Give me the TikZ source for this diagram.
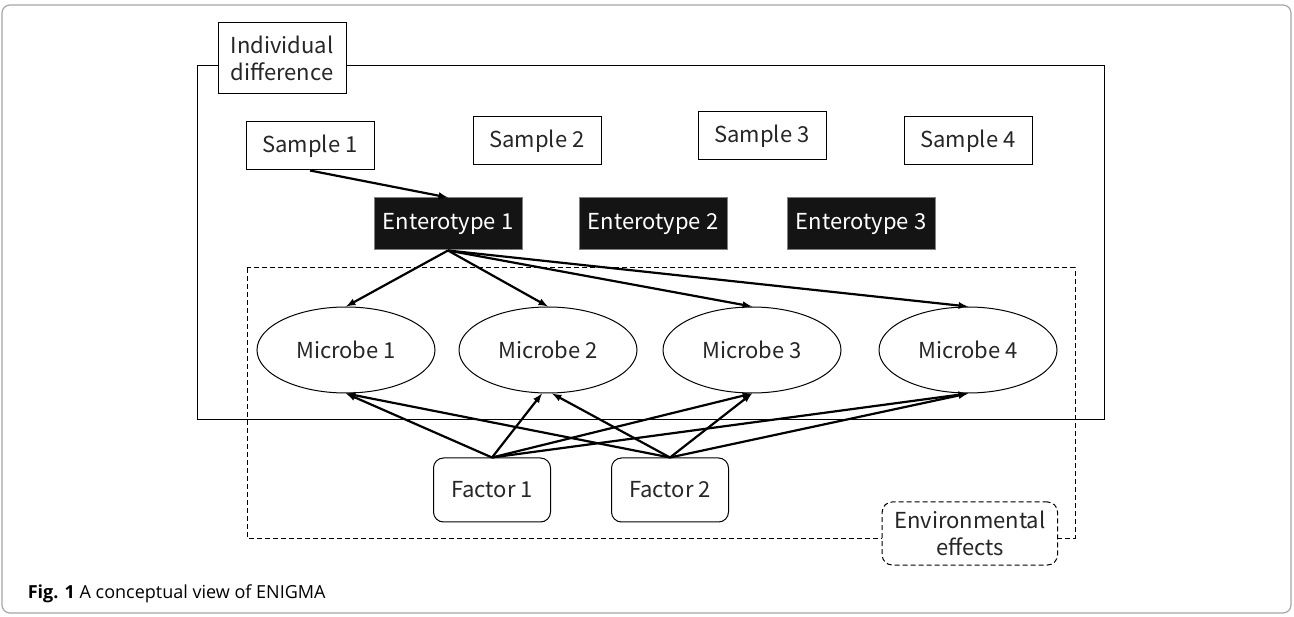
\documentclass[tikz,border=0pt]{standalone}
\usepackage{fontspec}
\setmainfont{Noto Sans CJK JP}
\newfontfamily\capfont{Open Sans}
\usepackage{tikz}
\usetikzlibrary{arrows, shapes.geometric}
\tikzset{every picture/.style={line width=1pt}}

\begin{document}
\begin{tikzpicture}[x=1pt,y=-1pt,align=center,
        font=\fontsize{22}{27}\selectfont,
        box/.style={draw,fill=white,text=black!85,minimum width=128pt,minimum height=48pt},
        etype/.style={draw=gray,fill=black!92,text=white,minimum width=148pt,minimum height=52pt},
        microbe/.style={draw,ellipse,text=black!85,minimum width=178pt,minimum height=86pt,inner sep=0pt},
        factor/.style={draw,rounded corners=10pt,text=black!85,minimum width=117pt,minimum height=64pt},
        dashbox/.style={dash pattern=on 5pt off 3pt},
        link/.style={line width=2.2pt,every edge/.append style={-latex}}]
        \useasboundingbox (0,0) rectangle (1294,617);
        \draw[gray!70,line width=1.2pt,rounded corners=8pt] (2,5) rectangle (1291,613);

        % individual difference / environmental effects
        \draw (197,66) rectangle (1104,420);
        \draw[dashbox] (247,268) rectangle (1075,538);
        \node[box,minimum height=71pt] (ind) at (282,58) {Individual\\difference};
        \node[draw,dashbox,fill=white,text=black!85,rounded corners=10pt,anchor=east,minimum height=63pt,inner xsep=12pt] (env) at (1058,533.5) {Environmental\\effects};

        \node[box] (s1) at (310,146) {Sample 1};
        \node[box] (s2) at (537,141) {Sample 2};
        \node[box] (s3) at (762,136) {Sample 3};
        \node[box] (s4) at (968,141) {Sample 4};

        \node[etype] (e1) at (448,224) {Enterotype 1};
        \node[etype] (e2) at (653,224) {Enterotype 2};
        \node[etype] (e3) at (861,224) {Enterotype 3};

        \node[microbe] (m1) at (346,350) {Microbe 1};
        \node[microbe] (m2) at (548,350) {Microbe 2};
        \node[microbe] (m3) at (752,350) {Microbe 3};
        \node[microbe] (m4) at (968,350) {Microbe 4};

        \node[factor] (f1) at (492,490) {Factor 1};
        \node[factor] (f2) at (670,490) {Factor 2};

        \node[anchor=base west,font=\capfont\fontsize{18}{22}\selectfont] (cap) at (24,598) {\textbf{Fig. 1} A conceptual view of ENIGMA};

        \draw[link]
            (s1.south) edge (e1.north)
            (e1.south) edge (m1.north)
            (e1.south) edge (m2.north)
            (e1.south) edge (m3.north)
            (e1.south) edge (m4.north)
            (f1.north) edge (m1.south)
            (f1.north) edge ([xshift=-6pt]m2.south)
            (f1.north) edge (m3.south)
            (f1.north) edge (m4.south)
            (f2.north) edge (m1.south)
            (f2.north) edge ([xshift=4pt]m2.south)
            (f2.north) edge (m3.south)
            (f2.north) edge (m4.south)
            ;
    \end{tikzpicture}
\end{document}
